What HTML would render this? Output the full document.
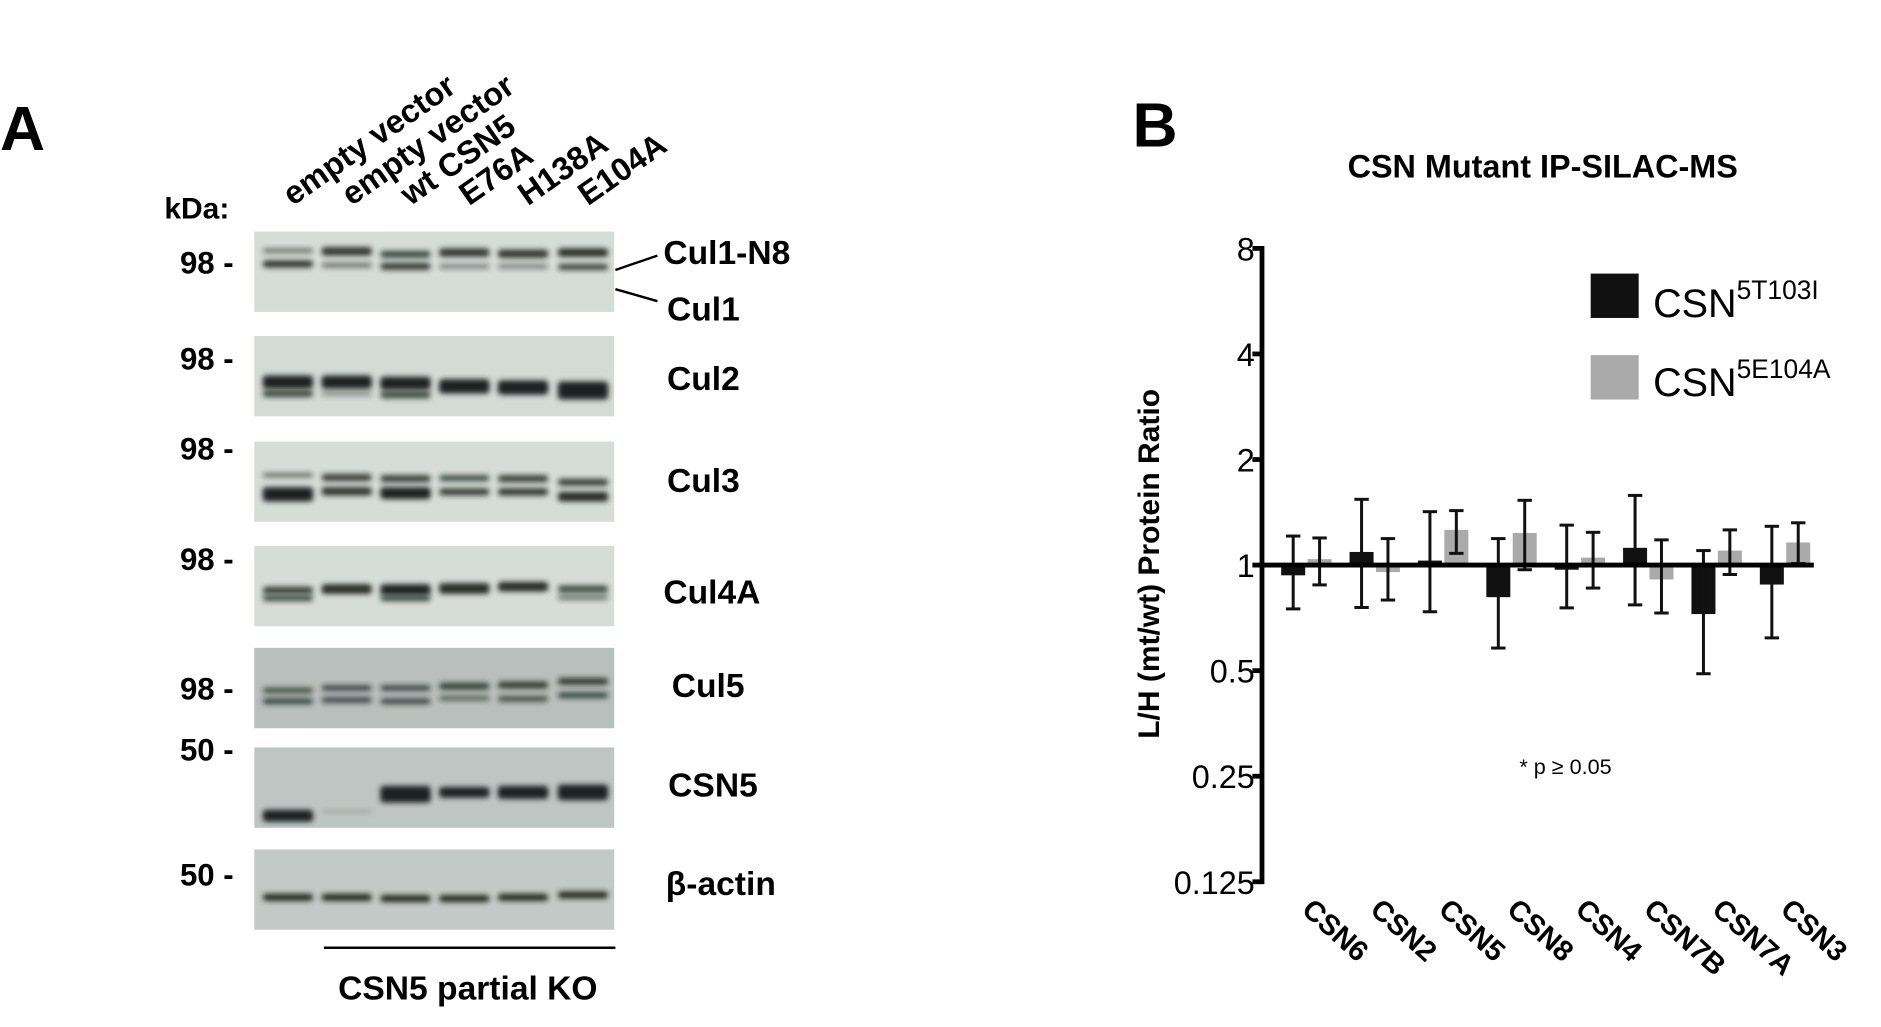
<!DOCTYPE html>
<html><head><meta charset="utf-8"><style>
html,body{margin:0;padding:0;background:#fff;}
svg{display:block;}
text{font-family:"Liberation Sans",Arial,sans-serif;}
.b{font-weight:bold;}
</style></head><body>
<svg id="fig" width="1881" height="1027" viewBox="0 0 1568 856" xmlns="http://www.w3.org/2000/svg">
<defs>
<filter id="blur" x="-20%" y="-100%" width="140%" height="300%"><feGaussianBlur stdDeviation="2.2"/></filter>
</defs>
<g id="panelA">
<text x="0" y="125" class="b" font-size="52">A</text>
<text x="137" y="182" class="b" font-size="25">kDa:</text>
<g id="lanes"></g>
<g id="blots"></g>
<line x1="513" y1="225" x2="548" y2="213" stroke="#000" stroke-width="2"/>
<line x1="513" y1="241" x2="548" y2="251" stroke="#000" stroke-width="2"/>
<line x1="270" y1="790" x2="513" y2="790" stroke="#000" stroke-width="2"/>
<text x="390" y="833" text-anchor="middle" class="b" font-size="28">CSN5 partial KO</text>
</g>
<g id="panelB">
<text x="944" y="122" class="b" font-size="52">B</text>
<text x="1286" y="148" text-anchor="middle" class="b" font-size="27">CSN Mutant IP-SILAC-MS</text>
<text transform="translate(966,470) rotate(-90)" text-anchor="middle" class="b" font-size="25">L/H (mt/wt) Protein Ratio</text>
<text x="1305" y="645" text-anchor="middle" font-size="18">* p ≥ 0.05</text>
<g id="chart"></g>
<rect x="1326" y="228" width="40" height="37" fill="#111"/>
<text x="1378" y="264" font-size="33">CSN<tspan font-size="22" dy="-15">5T103I</tspan></text>
<rect x="1326" y="296" width="40" height="37" fill="#aaa"/>
<text x="1378" y="330" font-size="33">CSN<tspan font-size="22" dy="-15">5E104A</tspan></text>
</g>
</svg>
<script>
var NS="http://www.w3.org/2000/svg";
function mk(tag,attrs,parent){var e=document.createElementNS(NS,tag);for(var k in attrs)e.setAttribute(k,attrs[k]);parent.appendChild(e);return e;}

// ---- chart data ----
var categories=["CSN6","CSN2","CSN5","CSN8","CSN4","CSN7B","CSN7A","CSN3"];
var t103iMean=[0.935,1.09,1.03,0.81,0.97,1.12,0.725,0.88];
var t103iHigh=[1.21,1.54,1.42,1.19,1.30,1.58,1.10,1.29];
var t103iLow=[0.75,0.757,0.736,0.58,0.755,0.77,0.49,0.62];
var e104aMean=[1.04,0.955,1.26,1.235,1.05,0.91,1.10,1.16];
var e104aHigh=[1.195,1.19,1.43,1.53,1.24,1.18,1.26,1.32];
var e104aLow=[0.878,0.795,1.08,0.97,0.86,0.73,0.94,1.01];
var yTicks=[8,4,2,1,0.5,0.25,0.125];
var yTickLabels=["8","4","2","1","0.5","0.25","0.125"];

var AX=1052,Y1=471,DOUB=88,G0=1089,GS=57;
function yS(v){return Y1-Math.log2(v)*DOUB;}
function xG(i){return G0+i*GS;}
var ch=document.getElementById('chart');
var yax=mk('line',{x1:AX,y1:yS(8)-2,x2:AX,y2:yS(0.125)+2,stroke:'#000','stroke-width':4},ch);


yTicks.forEach(function(v,i){
  var t=mk('line',{x1:AX-8,y1:yS(v),x2:AX,y2:yS(v),stroke:'#000','stroke-width':4},ch);
  
  
  var l=mk('text',{x:AX-6,y:yS(v)+10,'text-anchor':'end','font-size':27},ch);
  
  
  l.textContent=yTickLabels[i];
});
function bar(x,m,hi,lo,col,name){
  var y0=yS(1),y=yS(m);
  var r=mk('rect',{x:x-10,y:Math.min(y0,y),width:20,height:Math.max(2,Math.abs(y-y0)),fill:col},ch);
  
  
  var e=mk('g',{stroke:'#111','stroke-width':2.5},ch);
  
  
  mk('line',{x1:x,y1:yS(hi),x2:x,y2:yS(lo)},e);
  mk('line',{x1:x-6,y1:yS(hi),x2:x+6,y2:yS(hi)},e);
  mk('line',{x1:x-6,y1:yS(lo),x2:x+6,y2:yS(lo)},e);
}
categories.forEach(function(c,i){
  bar(xG(i)-11,t103iMean[i],t103iHigh[i],t103iLow[i],'#111','bar-'+c.toLowerCase()+'-t103i');
  bar(xG(i)+11,e104aMean[i],e104aHigh[i],e104aLow[i],'#aaa','bar-'+c.toLowerCase()+'-e104a');
  var t=mk('text',{transform:'translate('+(xG(i)-5)+',760) rotate(42)','font-size':24,'font-weight':'bold'},ch);
  
  
  t.textContent=c;
});
var base=mk('line',{x1:AX,y1:yS(1),x2:1512,y2:yS(1),stroke:'#000','stroke-width':4},ch);



// ---- blot ----
var laneNames=["empty vector","empty vector","wt CSN5","E76A","H138A","E104A"];
var laneX=[240,289,338,387,436,486];
var ln=document.getElementById('lanes');
laneNames.forEach(function(n,i){
  var t=mk('text',{transform:'translate('+(laneX[i]+4)+',172) rotate(-35)','font-size':27,'font-weight':'bold'},ln);
  
  
  t.textContent=n;
});
var panelNames=["Cul1","Cul2","Cul3","Cul4A","Cul5","CSN5","β-actin"];
var panelTop=[193,280,368,455,540,623,708];
var panelBg=["#d6dcd8","#d4dad6","#d6dcd8","#d6dcd8","#b9bfbc","#bfc5c2","#c3c9c6"];
var markerTxt=["98 -","98 -","98 -","98 -","98 -","50 -","50 -"];
var markerY=[228,308,383,475,583,634,738];
var bands=[
[0,0,14,4,0.6],[0,0,24,6,0.9],[0,1,13,7,0.9],[0,1,26,4,0.6],[0,2,16,6,0.8],[0,2,26,6,0.85],[0,3,14,7,0.9],[0,3,27,4,0.5],[0,4,15,7,0.9],[0,4,27,4,0.5],[0,5,14,7,0.95],[0,5,27,5,0.85],
[1,0,33,11,1],[1,0,45,6,0.8],[1,1,33,11,1],[1,1,46,4,0.4],[1,2,34,11,1],[1,2,46,6,0.8],[1,3,36,12,1],[1,4,37,12,1],[1,5,38,15,1],
[2,0,26,4,0.6],[2,0,38,12,1],[2,1,27,6,0.85],[2,1,38,7,0.9],[2,2,28,6,0.85],[2,2,38,10,1],[2,3,28,5,0.8],[2,3,39,6,0.85],[2,4,28,6,0.85],[2,4,39,6,0.9],[2,5,31,6,0.85],[2,5,42,8,0.95],
[3,0,34,6,0.85],[3,0,41,5,0.8],[3,1,32,8,0.95],[3,2,32,9,1],[3,2,41,5,0.8],[3,3,31,9,0.95],[3,4,30,8,0.95],[3,5,33,6,0.8],[3,5,41,4,0.6],
[4,0,33,5,0.7],[4,0,42,5,0.8],[4,1,31,5,0.75],[4,1,41,5,0.75],[4,2,31,5,0.75],[4,2,42,5,0.75],[4,3,29,6,0.8],[4,3,40,4,0.65],[4,4,28,6,0.85],[4,4,40,5,0.7],[4,5,25,6,0.85],[4,5,37,5,0.8],
[5,0,52,10,1],[5,1,52,3,0.15],[5,2,32,14,1],[5,3,33,9,1],[5,4,32,11,1],[5,5,31,13,1],
[6,0,37,6,0.95],[6,1,37,6,0.95],[6,2,38,6,0.95],[6,3,38,6,0.95],[6,4,37,6,0.95],[6,5,35,6,0.95]
];
var bl=document.getElementById('blots');
var panelGroups=[];
panelNames.forEach(function(n,i){
  var g=mk('g',{},bl);
  
  
  mk('rect',{x:212,y:panelTop[i],width:300,height:67,fill:panelBg[i]},g);
  var m=mk('text',{x:150,y:markerY[i],'font-size':26,'font-weight':'bold'},g);
  
  
  m.textContent=markerTxt[i];
  panelGroups.push(g);
});
bands.forEach(function(b){
  var g=panelGroups[b[0]];
  var r=mk('rect',{x:laneX[b[1]]-21,y:panelTop[b[0]]+b[2],width:42,height:b[3],rx:3,fill:'#1c2420','fill-opacity':b[4],filter:'url(#blur)'},g);
  
  
});
var rl=[["Cul1-N8",553,220],["Cul1",556,267],["Cul2",556,325],["Cul3",556,410],["Cul4A",553,503],["Cul5",560,581],["CSN5",557,664],["β-actin",555,746]];
rl.forEach(function(r){
  var t=mk('text',{x:r[1],y:r[2],'font-size':28,'font-weight':'bold'},bl);
  
  
  t.textContent=r[0];
});
</script>
</body></html>
